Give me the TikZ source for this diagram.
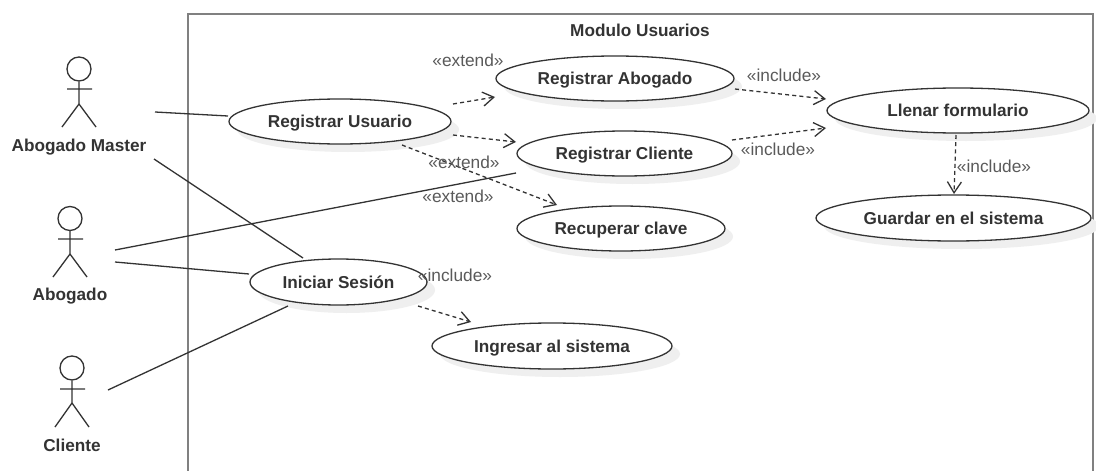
\documentclass[tikz,border=0pt]{standalone}
\usepackage{fontspec}
\setmainfont{Liberation Sans}
\usetikzlibrary{arrows.meta,shadows,shapes.geometric}
\definecolor{txtdark}{HTML}{333333}
\definecolor{txtgray}{HTML}{5A5A5A}
\definecolor{framegray}{HTML}{808080}
\definecolor{shadowgray}{HTML}{EFEFEF}
\tikzset{
  x=1pt,y=-1pt,
  usecase/.style={ellipse,draw=txtdark,line width=1.3pt,fill=white,inner sep=0pt,
    copy shadow={shadow xshift=8pt,shadow yshift=-8pt,draw=none,fill=shadowgray},
    text height=12.4pt,text depth=0.4pt,
    font=\bfseries\fontsize{17.2}{20}\selectfont,text=txtdark},
  actorname/.style={font=\bfseries\fontsize{17.2}{20}\selectfont,text=txtdark,inner sep=0pt,
    text height=12.4pt,text depth=0.4pt},
  stereo/.style={font=\fontsize{17.3}{20}\selectfont,text=txtgray,inner sep=0pt},
  head/.style={circle,draw=txtdark,line width=1.3pt,minimum size=24pt,inner sep=0pt},
  limb/.style={draw=txtdark,line width=1.3pt},
  assoc/.style={draw=txtdark,line width=1.3pt},
  dep/.style={draw=txtdark,line width=1.3pt,dash pattern=on 4pt off 3.2pt,
    -{Straight Barb[length=11pt,width=14pt,line width=1.3pt]}},
}
\newcommand{\ucase}[6]{\node[usecase,minimum width=#3pt,minimum height=#4pt] (#5) at (#1,#2) {#6};}
\begin{document}
\begin{tikzpicture}
\useasboundingbox (0,0) rectangle (1096,471);
\fill[white] (0,0) rectangle (1096,471);
\begin{scope}
\clip (0,0) rectangle (1096,471);
\node[draw=framegray,line width=2pt,minimum width=905pt,minimum height=480pt,anchor=north west,inner sep=0pt] (frame) at (187,13) {};
\end{scope}
\node[actorname] (title) at (640,30) {Modulo Usuarios};

% use cases
\ucase{340}{121.5}{222}{45}{regusr}{Registrar Usuario}
\ucase{615}{78.5}{238}{45}{regabo}{Registrar Abogado}
\ucase{624.5}{153.5}{215}{45}{regcli}{Registrar Cliente}
\ucase{621}{228.5}{208}{45}{recup}{Recuperar clave}
\ucase{958}{110.5}{262}{45}{llenar}{Llenar formulario}
\ucase{953.5}{218}{275}{46}{guardar}{Guardar en el sistema}
\ucase{338.5}{282}{177}{46}{iniciar}{Iniciar Sesión}
\ucase{552}{346}{240}{46}{ingresar}{Ingresar al sistema}

% actors
\node[head] (hm) at (79,69) {};
\coordinate (hmw) at (79,104);
\draw[limb] (hm.south) -- (hmw) (67,89) -- (92,89) (62,127) -- (hmw) -- (96,127);
\node[actorname] (lm) at (79,145) {Abogado Master};

\node[head] (ha) at (70,218.5) {};
\coordinate (haw) at (70,254);
\draw[limb] (ha.south) -- (haw) (58,239) -- (83,239) (53,277) -- (haw) -- (87,277);
\node[actorname] (la) at (70,294) {Abogado};

\node[head] (hc) at (72,368) {};
\coordinate (hcw) at (72,403);
\draw[limb] (hc.south) -- (hcw) (60,389) -- (85,389) (55,427) -- (hcw) -- (89,427);
\node[actorname] (lc) at (72,445) {Cliente};

% connector ends
\coordinate (a1) at (155,112); \coordinate (a2) at (228,116);
\coordinate (b1) at (154,159); \coordinate (b2) at (303,258);
\coordinate (c1) at (115,250); \coordinate (c2) at (516,173);
\coordinate (d1) at (115,262); \coordinate (d2) at (249,274);
\coordinate (e1) at (108,390); \coordinate (e2) at (288,306);
\draw[assoc] (a1) -- (a2);
\draw[assoc] (b1) -- (b2);
\draw[assoc] (c1) -- (c2);
\draw[assoc] (d1) -- (d2);
\draw[assoc] (e1) -- (e2);

\coordinate (f1) at (453,104); \coordinate (f2) at (495,97);
\coordinate (g1) at (453,135); \coordinate (g2) at (516,142);
\coordinate (h1) at (402,145); \coordinate (h2) at (557,205);
\coordinate (i1) at (735,89);  \coordinate (i2) at (826,99);
\coordinate (j1) at (732,140); \coordinate (j2) at (826,128);
\coordinate (k1) at (956,135); \coordinate (k2) at (954,194);
\coordinate (m1) at (418,306); \coordinate (m2) at (471,322);
\draw[dep] (f1) -- (f2);
\draw[dep] (g1) -- (g2);
\draw[dep] (h1) -- (h2);
\draw[dep] (i1) -- (i2);
\draw[dep] (j1) -- (j2);
\draw[dep] (k1) -- (k2);
\draw[dep] (m1) -- (m2);

% stereotypes
\node[stereo] (s1) at (468,60) {«extend»};
\node[stereo] (s2) at (464,162) {«extend»};
\node[stereo] (s3) at (458,196) {«extend»};
\node[stereo] (s4) at (784,75) {«include»};
\node[stereo] (s5) at (778,149) {«include»};
\node[stereo] (s6) at (994,166) {«include»};
\node[stereo] (s7) at (455,275) {«include»};
\end{tikzpicture}
\end{document}
